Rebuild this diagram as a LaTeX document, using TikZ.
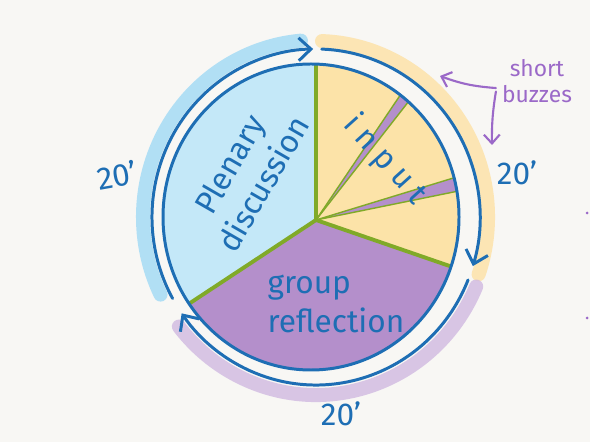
\documentclass[tikz,border=0pt]{standalone}
\usepackage{fontspec}
\setmainfont{Fira Sans}
\usetikzlibrary{arrows.meta}
\definecolor{paper}{RGB}{248,247,244}
\definecolor{skyfill}{RGB}{196,232,248}
\definecolor{sandfill}{RGB}{252,227,168}
\definecolor{lilacfill}{RGB}{180,143,203}
\definecolor{leafgreen}{RGB}{128,170,40}
\definecolor{inkblue}{RGB}{30,110,180}
\definecolor{inkpurple}{RGB}{155,105,200}
\definecolor{skyswash}{RGB}{160,218,245}
\definecolor{sandswash}{RGB}{253,225,165}
\definecolor{lilacswash}{RGB}{208,185,225}

\begin{document}
\begin{tikzpicture}[x=0.02cm, y=0.02cm,
    ink/.style={draw=inkblue, line width=1.7pt, line cap=round},
    ring/.style={ink, -{Straight Barb[length=7pt, width=13pt, line width=1.7pt]}},
    swash/.style={line width=8pt, line cap=round, opacity=.8},
    cut/.style={draw=leafgreen, line width=2.2pt},
    thincut/.style={draw=leafgreen, line width=0.8pt},
    lbl/.style={text=inkblue, font=\fontsize{18}{22}\selectfont},
    note/.style={text=inkpurple, font=\fontsize{13}{15}\selectfont, align=center},
    buzzarrow/.style={draw=inkpurple, line width=1.2pt, line cap=round,
                      -{Straight Barb[length=5pt, width=9pt, line width=1.2pt]}}
  ]
    \fill[paper] (0,0) rectangle (590,442);
    \useasboundingbox (0,0) rectangle (590,442);
    \coordinate (hub)   at (316,222);
    \coordinate (mid)   at (311,225);
    \coordinate (orbit) at (316,225);

    % highlighter strokes behind the ring
    \draw[swash, skyswash]   (orbit) ++(206:173 and 177)
      arc[start angle=206, end angle=95, x radius=173, y radius=177];
    \draw[swash, sandswash]  (orbit) ++(88:172 and 176)
      arc[start angle=88, end angle=-19, x radius=172, y radius=176];
    \draw[swash, lilacswash] (orbit) ++(-23:174 and 178)
      arc[start angle=-23, end angle=-142, x radius=174, y radius=178];

    % slices
    \begin{scope}
      \clip (mid) ellipse[x radius=148, y radius=153];
      \fill[skyfill]   (hub) -- ++(90:300)    arc[start angle=90, end angle=213.4, radius=300] -- cycle;
      \fill[lilacfill] (hub) -- ++(213.4:300) arc[start angle=213.4, end angle=341, radius=300] -- cycle;
      \fill[sandfill]  (hub) -- ++(-19:300)   arc[start angle=-19, end angle=90, radius=300] -- cycle;
      \fill[lilacfill] (hub) -- ++(52:300)    arc[start angle=52, end angle=56, radius=300] -- cycle;
      \fill[lilacfill] (hub) -- ++(11.5:300)  arc[start angle=11.5, end angle=17, radius=300] -- cycle;
      \foreach \a in {52,56,11.5,17}
        \draw[thincut] (hub) -- ++(\a:300);
      \foreach \a in {90,213.4,341}
        \draw[cut] (hub) -- ++(\a:300);
    \end{scope}
    \draw[ink] (mid) ellipse[x radius=148, y radius=153];

    % ring of arrows
    \draw[ring] (orbit) ++(209:164 and 168)
      arc[start angle=209, end angle=91, x radius=164, y radius=168];
    \draw[ring] (orbit) ++(88:164 and 168)
      arc[start angle=88, end angle=-17, x radius=164, y radius=168];
    \draw[ring] (orbit) ++(-22:164 and 168)
      arc[start angle=-22, end angle=-145, x radius=164, y radius=168];

    \node[lbl, rotate=60, align=center] (plenary) at (246,268) {Plenary\\discussion};
    \node[lbl, rotate=-48] (input) at (385,282) {\addfontfeature{LetterSpace=25}input};
    \node[lbl, align=left] (group) at (336,138) {group\\reflection};

    \node[lbl, rotate=10] (lefttime)   at (117,267) {20'};
    \node[lbl]            (righttime)  at (517,269) {20'};
    \node[lbl]            (bottomtime) at (341,28)  {20'};

    \node[note] (buzz) at (537,361) {short\\buzzes};
    \coordinate (buzzA) at (440,366);
    \coordinate (buzzB) at (492,297);
    \draw[buzzarrow] ([yshift=-4pt]buzz.west) to[bend left=8] (buzzA);
    \draw[buzzarrow] ([yshift=-6pt]buzz.west) to[bend right=5] (buzzB);

    \fill[inkpurple] (587,229) circle[radius=1.5];
    \fill[inkpurple] (587,124) circle[radius=1.5];
  \end{tikzpicture}
\end{document}
